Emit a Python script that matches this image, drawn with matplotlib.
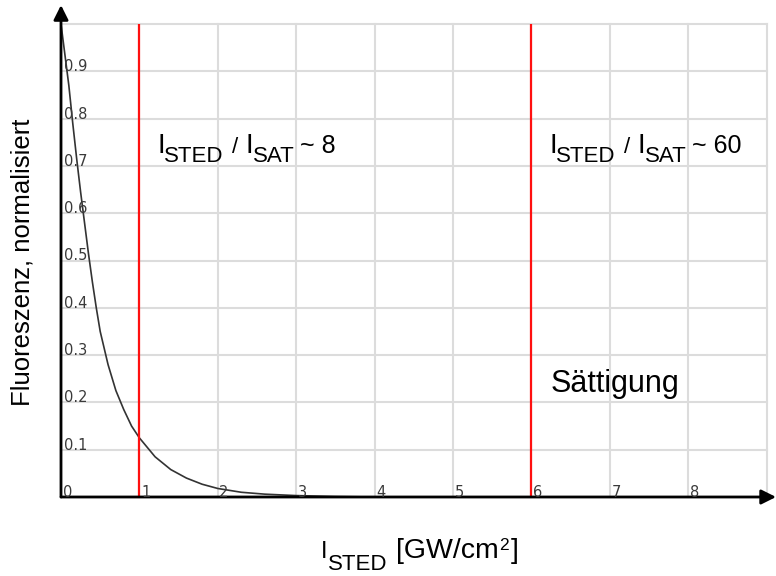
import matplotlib
matplotlib.use("Agg")
import matplotlib.pyplot as plt
from matplotlib import transforms

# fluorescence vs. STED intensity
intensity = [0, 0.05, 0.1, 0.15, 0.2, 0.25, 0.3, 0.35, 0.4, 0.45, 0.5, 0.6, 0.7,
             0.8, 0.9, 1.0, 1.2, 1.4, 1.6, 1.8, 2.0, 2.3, 2.6, 3.0, 3.5, 4.0]
fluorescence = [1.0, 0.935, 0.87, 0.79, 0.715, 0.645, 0.58, 0.515, 0.455, 0.40, 0.35, 0.28, 0.225,
                0.185, 0.15, 0.125, 0.085, 0.058, 0.04, 0.027, 0.018, 0.01, 0.006, 0.003, 0.001, 0.0]

sted_marks = [1, 6]
sted_ratios = ["8", "60"]
x_ticks = [1, 2, 3, 4, 5, 6, 7, 8]
y_ticks = [0.1, 0.2, 0.3, 0.4, 0.5, 0.6, 0.7, 0.8, 0.9]
x_max, y_max = 9, 1.0

SANS = ["Liberation Sans", "DejaVu Sans"]

fig = plt.figure(figsize=(7.76, 5.76), dpi=100)
ax = fig.add_axes([61 / 776, 79 / 576, 705.6 / 776, 473 / 576])
ax.set_xlim(0, x_max)
ax.set_ylim(0, y_max)
for s in ax.spines.values():
    s.set_visible(False)
ax.set_xticks(range(0, x_max + 1))
ax.set_yticks([0] + y_ticks + [y_max])
ax.tick_params(length=0, labelbottom=False, labelleft=False)
ax.grid(True, color="#dcdcdc", lw=1.5, zorder=0)
for gl in ax.get_xgridlines() + ax.get_ygridlines():
    gl.set_clip_on(False)
ax.set_axisbelow(True)

ax.plot(intensity, fluorescence, color="#333333", lw=1.2, zorder=3)
ax.vlines(sted_marks, 0, y_max, color="#ff1010", lw=1.6, zorder=4)

# axes with arrow heads
arrow = dict(arrowstyle="-|>", color="black", lw=2.0, mutation_scale=22, shrinkA=0, shrinkB=0)
ax.annotate("", xy=(x_max + 0.12, 0), xytext=(0, 0), arrowprops=arrow, annotation_clip=False, zorder=5)
ax.annotate("", xy=(0, y_max + 0.04), xytext=(0, 0), arrowprops=arrow, annotation_clip=False, zorder=5)

# tick labels sit inside the plot
tick_kw = dict(fontsize=10.5, color="#3a3a3a", family="DejaVu Sans", va="baseline", ha="left", zorder=6)
ax.text(0.025, 0, "0", **tick_kw)
for v in x_ticks:
    ax.text(v + 0.02, 0, str(v), **tick_kw)
for v in y_ticks:
    ax.text(0.035, v, f"{v:.1f}", **tick_kw)


def pieces_text(x, y, pieces):
    # pieces: (text, size, dx px, dy px) relative to the anchor baseline
    for txt, size, dx, dy in pieces:
        tr = transforms.offset_copy(ax.transData, fig=fig, x=dx, y=dy, units="dots")
        ax.text(x, y, txt, fontsize=size, family=SANS, transform=tr,
                ha="left", va="baseline", color="black", clip_on=False)


for mark, ratio in zip(sted_marks, sted_ratios):
    pieces_text(mark + 0.23, 0.727, [
        ("I", 20, 0, 0),
        ("STED", 16, 7, -8.5),
        ("/", 16, 75, 0),
        ("I", 20, 88, 0),
        ("SAT", 16, 96, -8.5),
        ("~ " + ratio, 18, 143, 0),
    ])

ax.text(6.25, 0.222, "Sättigung", fontsize=22, family=SANS, ha="left", va="baseline")

# axis titles
pieces_text(3.31, -0.129, [
    ("I", 17, 0, 0),
    ("STED", 16, 7, -12),
    ("[GW/cm", 20.5, 75, 0),
    ("2", 12.5, 179, 8),
    ("]", 20.5, 190, 0),
])
ax.text(-0.497, 0.497, "Fluoreszenz, normalisiert", fontsize=18.5, family=SANS,
        rotation=90, ha="center", va="center")

fig.savefig("out.png", dpi=100)
